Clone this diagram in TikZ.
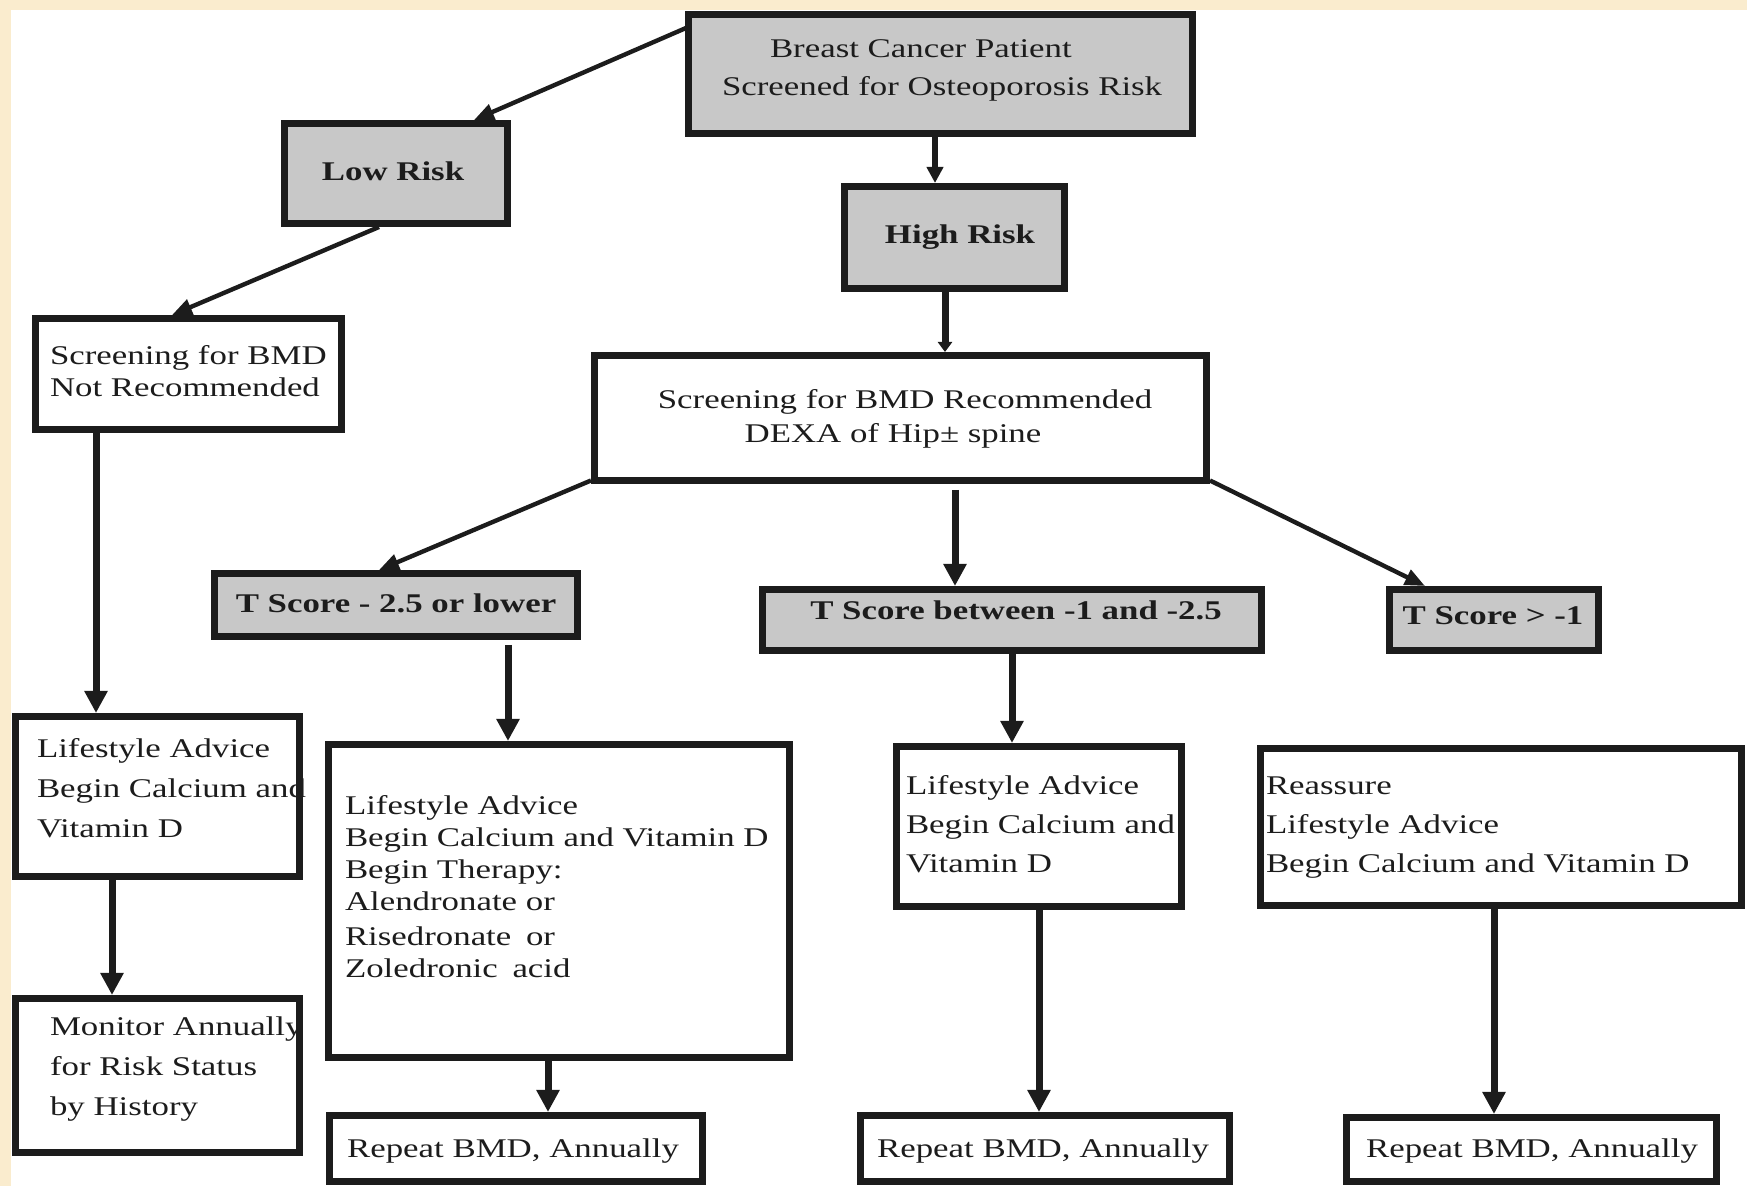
\documentclass[tikz,border=0pt]{standalone}
\usepackage{fontspec}
\setmainfont{Liberation Serif}[FakeStretch=1.29]
\usetikzlibrary{arrows.meta}
\definecolor{cream}{RGB}{250,236,206}
\definecolor{boxgray}{RGB}{200,200,200}
\definecolor{ink}{RGB}{28,28,28}
\pgfdeclarelayer{bg}
\pgfsetlayers{bg,main}
\newcommand\mkbox[6]{\node[bx,#6,minimum width={(#4-#2-7)*0.5pt},minimum height={(#5-#3-7)*0.5pt}] (#1) at ({(#2+#4)/2},{(#3+#5)/2}) {};}
\begin{document}
\begin{tikzpicture}[x=0.5pt,y=-0.5pt,
  bx/.style={draw=ink,line width=3.5pt,inner sep=0pt,outer sep=0pt},
  tx/.style={inner sep=0pt,outer sep=0pt,text=ink},
  ml/.style={tx,align=left,anchor=north west},
  one/.style={tx,anchor=base,font=\fontsize{13.5}{16}\selectfont},
  bone/.style={tx,anchor=base,font=\fontsize{13.5}{16}\selectfont\bfseries},
  con/.style={draw=ink,line width=3.5pt,-{Triangle[width=11pt,length=11pt]}},
  tcon/.style={draw=ink,line width=3.5pt,-{Triangle[width=7pt,length=5pt]}},
  scon/.style={draw=ink,line width=2.6pt,-{Triangle[width=8pt,length=8pt]}},
  dcon/.style={draw=ink,line width=2.2pt,-{Triangle[width=8pt,length=10pt]}}]
\useasboundingbox (0,0) rectangle (1747,1186);

% ---------- texts (under the borders)
\node[ml,font=\fontsize{13.5}{19}\selectfont] (t-breast) at (722,38)
  {\rule{0pt}{10pt}\hspace*{24pt}Breast Cancer Patient\\Screened for Osteoporosis Risk};
\node[bone] (t-low) at (393,181) {Low Risk};
\node[bone] (t-high) at (960,244) {High Risk};
\node[ml,font=\fontsize{13.5}{16}\selectfont] (t-notrec) at (50,345)
  {\rule{0pt}{10pt}Screening for BMD\\Not Recommended};
\node[tx,align=center,anchor=north,font=\fontsize{13.5}{17}\selectfont] (t-rec) at (905,389)
  {\rule{0pt}{10pt}Screening for BMD Recommended\\DEXA of Hip± spine\hspace*{12pt}};
\node[bone] (t-tlow) at (396,613) {T Score - 2.5 or lower};
\node[bone] (t-tmid) at (1016,620) {T Score between -1 and -2.5};
\node[bone] (t-thigh) at (1493,625) {T Score > -1};
\node[ml,font=\fontsize{13.5}{20}\selectfont] (t-life1) at (37,738)
  {\rule{0pt}{10pt}Lifestyle Advice\\Begin Calcium and\\Vitamin D};
\node[ml,font=\fontsize{13.5}{20}\selectfont] (t-mon) at (50,1016)
  {\rule{0pt}{10pt}Monitor Annually\\for Risk Status\\by History};
\node[ml,font=\fontsize{13.5}{16}\selectfont] (t-big) at (345,795)
  {\rule{0pt}{10pt}Lifestyle Advice\\Begin Calcium and Vitamin D\\Begin Therapy:\\Alendronate or\\[1.5pt]Risedronate\hspace{3pt} or\\Zoledronic\hspace{3pt} acid};
\node[ml,font=\fontsize{13.5}{19.5}\selectfont] (t-life3) at (906,775)
  {\rule{0pt}{10pt}Lifestyle Advice\\Begin Calcium and\\Vitamin D};
\node[ml,font=\fontsize{13.5}{19.5}\selectfont] (t-reass) at (1266,775)
  {\rule{0pt}{10pt}Reassure\\Lifestyle Advice\\Begin Calcium and Vitamin D};
\node[one] (t-rep1) at (513,1158) {Repeat BMD, Annually};
\node[one] (t-rep2) at (1043,1158) {Repeat BMD, Annually};
\node[one] (t-rep3) at (1532,1158) {Repeat BMD, Annually};

% ---------- boxes
\mkbox{breast}{685}{11}{1196}{137}{}
\mkbox{low}{281}{120}{511}{227}{}
\mkbox{high}{841}{183}{1068}{292}{}
\mkbox{notrec}{32}{315}{345}{433}{}
\mkbox{rec}{591}{352}{1210}{484}{}
\mkbox{tlow}{211}{570}{581}{640}{}
\mkbox{tmid}{759}{586}{1265}{654}{}
\mkbox{thigh}{1386}{586}{1602}{654}{}
\mkbox{life1}{12}{713}{303}{880}{}
\mkbox{mon}{12}{995}{303}{1156}{}
\mkbox{big}{325}{741}{793}{1061}{}
\mkbox{rep1}{326}{1112}{706}{1185}{}
\mkbox{life3}{893}{743}{1185}{910}{}
\mkbox{rep2}{857}{1112}{1233}{1185}{}
\mkbox{reass}{1257}{745}{1745}{909}{}
\mkbox{rep3}{1343}{1114}{1720}{1185}{}

% ---------- connectors
\draw[dcon] ([shift={(-2.5,-46)}]breast.west) -- ([shift={(78,-3.5)}]low.north);
\draw[dcon] ([shift={(-17,3.5)}]low.south) -- ([shift={(-16.5,-3.5)}]notrec.north);
\draw[scon] ([shift={(-5.5,3.5)}]breast.south) -- ([shift={(-19.5,-3.5)}]high.north);
\draw[tcon] ([shift={(-9.5,3.5)}]high.south) -- ([shift={(44.5,-3.5)}]rec.north);
\draw[con] ([shift={(-92.5,3.5)}]notrec.south) -- ([shift={(-61.5,-3.5)}]life1.north);
\draw[con] ([shift={(-45.5,3.5)}]life1.south) -- ([shift={(-45.5,-3.5)}]mon.north);
\draw[dcon] ([shift={(-3.5,0)}]rec.south west) -- ([shift={(-17,-3.5)}]tlow.north);
\draw[con] ([shift={(54.5,9.5)}]rec.south) -- ([shift={(-57,-3.5)}]tmid.north);
\draw[dcon] ([shift={(3.5,0)}]rec.south east) -- ([shift={(-69,-3.5)}]thigh.north);
\draw[con] ([shift={(112,8.5)}]tlow.south) -- ([shift={(-51,-3.5)}]big.north);
\draw[con] ([shift={(0,3.5)}]tmid.south) -- ([shift={(-27,-3.5)}]life3.north);
\draw[con] ([shift={(-11,3.5)}]big.south) -- ([shift={(32,-3.5)}]rep1.north);
\draw[con] ([shift={(0,3.5)}]life3.south) -- ([shift={(-6,-3.5)}]rep2.north);
\draw[con] ([shift={(-7,3.5)}]reass.south) -- ([shift={(-37.5,-3.5)}]rep3.north);

% ---------- background and fills
\begin{pgfonlayer}{bg}
  \fill[cream] (0,0) rectangle (1747,1186);
  \fill[white] (11,10) rectangle (1747,1186);
  \foreach \n in {breast,low,high,tlow,tmid,thigh}
    \fill[boxgray] (\n.north west) rectangle (\n.south east);
\end{pgfonlayer}
\end{tikzpicture}
\end{document}
